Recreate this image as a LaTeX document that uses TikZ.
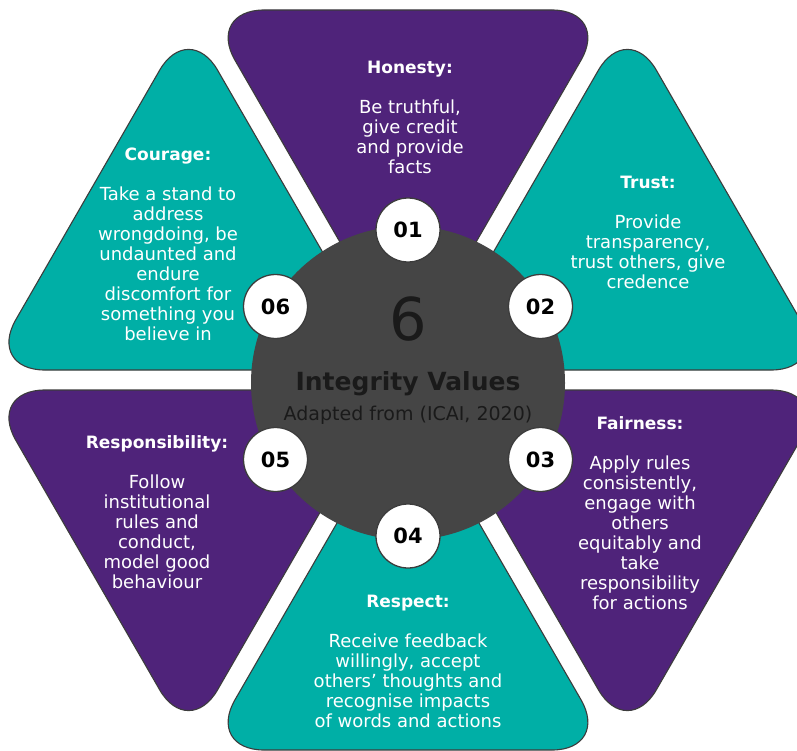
\documentclass[tikz,border=0pt]{standalone}
\usepackage{fontspec}
\setmainfont{DejaVu Sans}
\definecolor{ivpurple}{HTML}{4F237A}
\definecolor{ivteal}{HTML}{00AFA6}
\definecolor{ivgray}{HTML}{454545}
\definecolor{ivline}{HTML}{3C3C3C}
\definecolor{ivdark}{HTML}{1A1A1A}
\newcommand{\ivhead}[1]{{\fontsize{17}{20}\selectfont\bfseries #1}}
\begin{document}
\begin{tikzpicture}[x=1pt,y=-1pt,
  tri/.style={draw=ivline,line width=1.1pt,rounded corners=58pt},
  numc/.style={circle,draw=ivline,line width=1.3pt,fill=white,minimum size=64pt,inner sep=0pt,
    font=\fontsize{21}{21}\selectfont\bfseries,text=black},
  txt/.style={align=center,text=white,inner sep=0pt,font=\fontsize{18}{20}\selectfont},
  ctr/.style={anchor=base,inner sep=0pt,text=ivdark}
]
\path[use as bounding box] (0,0) rectangle (797,751);
\clip (0,0) rectangle (797,751);
\fill[white] (0,0) rectangle (797,751);

% triangle vertices
\coordinate (t1c) at (408,360);   \coordinate (t1a) at (206,10);     \coordinate (t1b) at (610,10);
\coordinate (t2c) at (425.3,370); \coordinate (t2a) at (627.4,20);   \coordinate (t2b) at (829.2,370);
\coordinate (t3c) at (425.3,390); \coordinate (t3a) at (829.2,390);  \coordinate (t3b) at (627.4,740);
\coordinate (t4c) at (408,400);   \coordinate (t4a) at (610,750);    \coordinate (t4b) at (206,750);
\coordinate (t5c) at (390.7,390); \coordinate (t5a) at (188.6,740);  \coordinate (t5b) at (-13.2,390);
\coordinate (t6c) at (390.7,370); \coordinate (t6a) at (-13.2,370);  \coordinate (t6b) at (188.6,20);

\path[tri,fill=ivpurple] (t1c) -- (t1a) -- (t1b) -- cycle;
\path[tri,fill=ivteal]   (t2c) -- (t2a) -- (t2b) -- cycle;
\path[tri,fill=ivpurple] (t3c) -- (t3a) -- (t3b) -- cycle;
\path[tri,fill=ivteal]   (t4c) -- (t4a) -- (t4b) -- cycle;
\path[tri,fill=ivpurple] (t5c) -- (t5a) -- (t5b) -- cycle;
\path[tri,fill=ivteal]   (t6c) -- (t6a) -- (t6b) -- cycle;

% central disc
\node[circle,fill=ivgray,minimum size=314pt,inner sep=0pt] (hub) at (408,383) {};

% number badges
\node[numc] (n1) at (408,230) {01};
\node[numc] (n2) at (540.5,306.5) {02};
\node[numc] (n3) at (540.5,459.5) {03};
\node[numc] (n4) at (408,536) {04};
\node[numc] (n5) at (275.5,459.5) {05};
\node[numc] (n6) at (275.5,306.5) {06};

% centre text
\node[ctr,font=\fontsize{59}{59}\selectfont] (six) at (408,340) {6};
\node[ctr,font=\fontsize{25}{25}\selectfont\bfseries] (title) at (408,390) {Integrity Values};
\node[ctr,font=\fontsize{19}{19}\selectfont] (src) at (408,420.5) {Adapted from (ICAI, 2020)};

% value texts
\node[txt] (honesty) at (410,117.5) {\ivhead{Honesty:}\\[20pt]Be truthful,\\give credit\\and provide\\facts};
\node[txt] (trust) at (648,232.5) {\ivhead{Trust:}\\[20pt]Provide\\transparency,\\trust others, give\\credence};
\node[txt] (courage) at (168,244.5) {\ivhead{Courage:}\\[20pt]Take a stand to\\address\\wrongdoing, be\\undaunted and\\endure\\discomfort for\\something you\\believe in};
\node[txt] (fairness) at (640,513) {\ivhead{Fairness:}\\[20pt]Apply rules\\consistently,\\engage with\\others\\equitably and\\take\\responsibility\\for actions};
\node[txt] (responsibility) at (157,512.5) {\ivhead{Responsibility:}\\[20pt]Follow\\institutional\\rules and\\conduct,\\model good\\behaviour};
\node[txt] (respect) at (408,661) {\ivhead{Respect:}\\[20pt]Receive feedback\\willingly, accept\\others’ thoughts and\\recognise impacts\\of words and actions};
\end{tikzpicture}
\end{document}
